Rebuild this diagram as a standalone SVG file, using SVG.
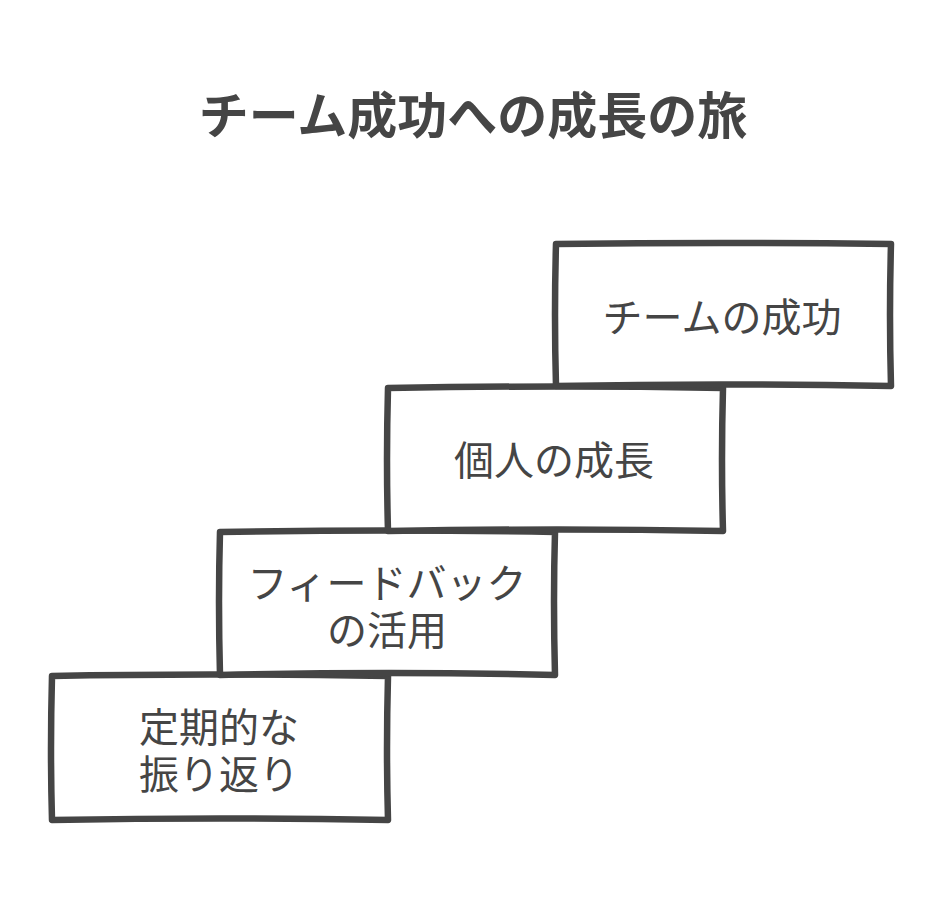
<svg xmlns="http://www.w3.org/2000/svg" width="944" height="920" viewBox="0 0 944 920">
<style>
.box{fill:#ffffff;stroke:#454545;stroke-width:6.5;stroke-linejoin:round;stroke-linecap:round}
.lbl{font-family:"Noto Sans CJK JP","Noto Sans",sans-serif;font-size:40px;fill:#454545;text-anchor:middle}
.title{font-family:"Noto Sans CJK JP","Noto Sans",sans-serif;font-size:50px;font-weight:bold;fill:#454545;text-anchor:middle}
</style>
<rect width="944" height="920" fill="#ffffff"/>
<text class="title" x="473" y="134">チーム成功への成長の旅</text>
<g id="node-review">
<path class="box" d="M52 676 Q200 673 388 676 Q386 750 388 820 Q220 817 52 820 Q50 750 52 676 Z"/>
<text class="lbl" x="219" y="742">定期的な</text>
<text class="lbl" x="219" y="789">振り返り</text>
</g>
<g id="node-feedback">
<path class="box" d="M220 532 Q390 529 555 532 Q553 600 555 675 Q390 671 220 675 Q218 600 220 532 Z"/>
<text class="lbl" x="387" y="598">フィードバック</text>
<text class="lbl" x="387" y="645">の活用</text>
</g>
<g id="node-growth">
<path class="box" d="M388 388 Q560 385 723 388 Q721 460 723 531 Q560 528 388 531 Q386 460 388 388 Z"/>
<text class="lbl" x="554" y="475">個人の成長</text>
</g>
<g id="node-success">
<path class="box" d="M556 244 Q720 242 891 244 Q889 315 891 386 Q720 383 556 386 Q554 315 556 244 Z"/>
<text class="lbl" x="722" y="332">チームの成功</text>
</g>
<g id="connectors"></g>
</svg>
